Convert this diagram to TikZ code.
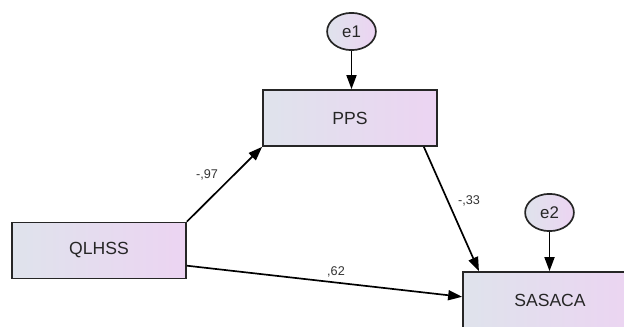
\documentclass[tikz,border=0pt]{standalone}
\usepackage{fontspec}
\setmainfont{Liberation Sans}
\usetikzlibrary{arrows.meta,shapes.geometric}
\definecolor{fillleft}{HTML}{DFE3EC}
\definecolor{fillright}{HTML}{ECD4F2}
\begin{document}
\begin{tikzpicture}[x=0.025cm,y=-0.025cm,
        obsbox/.style={draw=black!85,line width=1.2pt,left color=fillleft,right color=fillright,
            minimum width=4.35cm,minimum height=1.4cm,text=black!85,font=\fontsize{12.5}{14}\selectfont},
        errnode/.style={ellipse,draw=black!85,line width=1.2pt,left color=fillleft,right color=fillright,
            minimum width=1.22cm,minimum height=0.93cm,inner sep=0pt,text=black!85,font=\fontsize{12}{13}\selectfont},
        arr/.style={line width=1.2pt,-{Triangle[length=0.35cm,width=0.25cm]}},
        coef/.style={inner sep=0pt,text=black!80,font=\fontsize{9}{10}\selectfont}]
                \useasboundingbox (0,0) rectangle (624,327);
                \clip (0,0) rectangle (624,327);
                \node[obsbox] (pps) at (350,118) {PPS};
                \node[obsbox] (qlhss) at (99,250.5) {QLHSS};
                \node[obsbox] (sasaca) at (550,300) {SASACA};
                \node[errnode] (e1) at (351.5,31.5) {e1};
                \node[errnode] (e2) at (549.5,212.5) {e2};
                \draw[arr] (e1.south) -- (e1.south |- pps.north);
                \draw[arr] (e2.south) -- (e2.south |- sasaca.north);
                \draw[arr] (qlhss.north east) -- (pps.south west);
                \draw[arr] ([xshift=-0.35cm]pps.south east) -- ([xshift=0.42cm]sasaca.north west);
                \draw[arr] ([yshift=-0.38cm]qlhss.east) -- ([yshift=0.08cm]sasaca.west);
                \node[coef] (c97) at (207,175) {-,97};
                \node[coef] (c33) at (469,201) {-,33};
                \node[coef] (c62) at (336,272) {,62};
            \end{tikzpicture}
\end{document}
